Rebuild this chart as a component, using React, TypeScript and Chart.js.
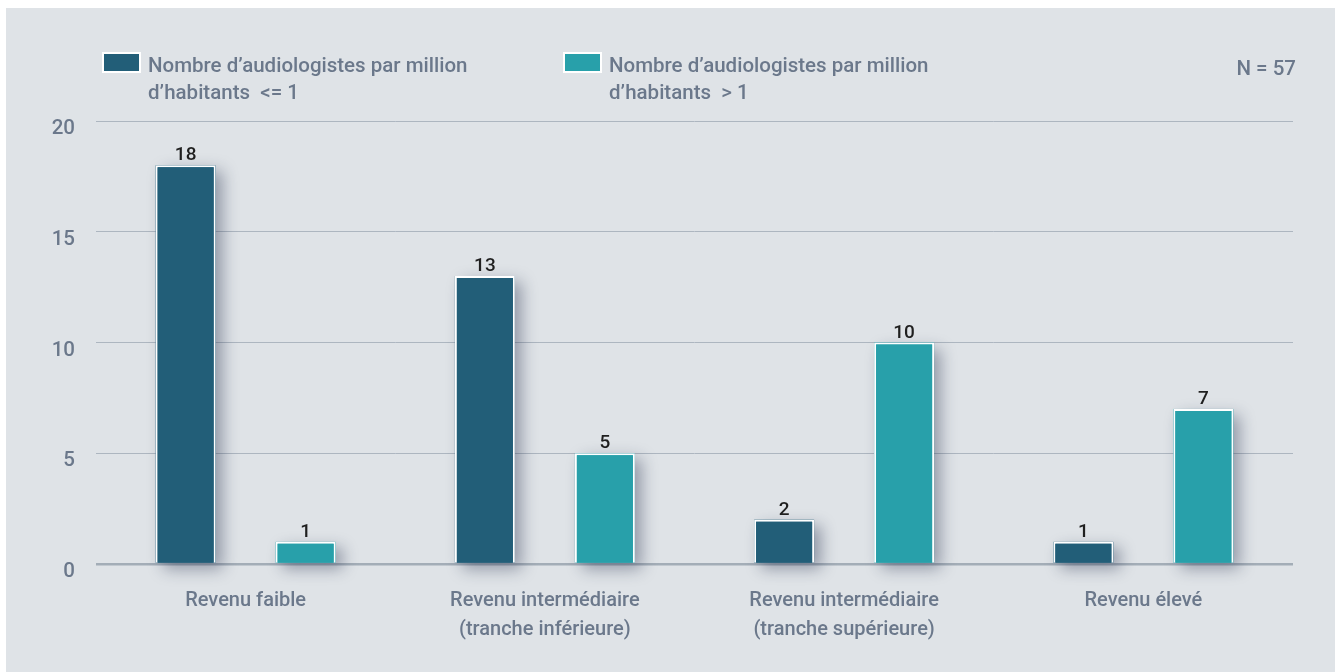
import { useEffect, useRef } from 'react';
import { Chart, registerables } from 'chart.js';

Chart.register(...registerables);

const categories: string[][] = [
  ['Revenu faible'],
  ['Revenu intermédiaire', '(tranche inférieure)'],
  ['Revenu intermédiaire', '(tranche supérieure)'],
  ['Revenu élevé'],
];
const seriesLow = [18, 13, 2, 1];
const seriesHigh = [1, 5, 10, 7];
const seriesLowLabel = ['Nombre d’audiologistes par million', 'd’habitants  <= 1'];
const seriesHighLabel = ['Nombre d’audiologistes par million', 'd’habitants  > 1'];
const yTicks = [0, 5, 10, 15, 20];
const noteText = 'N = 57';

const FONT = 'Roboto, "Liberation Sans", Arial, sans-serif';
const TEXT = '#6b788b';
const BG = '#dfe3e7';
const DARK = '#225e78';
const TEAL = '#28a0aa';

const shadowPlugin = {
  id: 'barShadow',
  beforeDatasetsDraw(chart: any) {
    const ctx = chart.ctx;
    chart.data.datasets.forEach((ds: any, i: number) => {
      const meta = chart.getDatasetMeta(i);
      meta.data.forEach((el: any) => {
        const { x, y, base, width } = el.getProps(['x', 'y', 'base', 'width'], true);
        ctx.save();
        ctx.shadowColor = 'rgba(30,40,70,0.4)';
        ctx.shadowBlur = 15;
        ctx.shadowOffsetX = 7;
        ctx.shadowOffsetY = 6;
        ctx.fillStyle = ds.backgroundColor;
        ctx.fillRect(x - width / 2, y, width, base - y);
        ctx.restore();
      });
    });
  },
};

const valueLabelPlugin = {
  id: 'valueLabels',
  afterDatasetsDraw(chart: any) {
    const ctx = chart.ctx;
    ctx.save();
    ctx.font = `500 19px ${FONT}`;
    ctx.fillStyle = '#1f1f1f';
    ctx.textAlign = 'center';
    ctx.textBaseline = 'alphabetic';
    chart.data.datasets.forEach((ds: any, i: number) => {
      const meta = chart.getDatasetMeta(i);
      meta.data.forEach((el: any, j: number) => {
        const { x, y } = el.getProps(['x', 'y'], true);
        ctx.fillText(String(ds.data[j]), x, y - 5);
      });
    });
    ctx.restore();
  },
};

const legendPlugin = {
  id: 'customLegend',
  afterDraw(chart: any) {
    const ctx = chart.ctx;
    ctx.save();
    const items = [
      { x: 96, color: chart.data.datasets[0].backgroundColor, lines: chart.data.datasets[0].legendLines },
      { x: 557, color: chart.data.datasets[1].backgroundColor, lines: chart.data.datasets[1].legendLines },
    ];
    items.forEach((it) => {
      ctx.fillStyle = '#ffffff';
      ctx.fillRect(it.x, 44, 39, 21);
      ctx.fillStyle = it.color;
      ctx.fillRect(it.x + 2, 46, 35, 17);
      ctx.fillStyle = TEXT;
      ctx.font = `500 20.5px ${FONT}`;
      ctx.textAlign = 'left';
      ctx.textBaseline = 'alphabetic';
      it.lines.forEach((ln: string, k: number) => {
        ctx.fillText(ln, it.x + 46, 64 + k * 27);
      });
    });
    ctx.textAlign = 'right';
    ctx.font = `500 20.5px ${FONT}`;
    ctx.fillStyle = TEXT;
    ctx.fillText(noteText, 1290, 67);
    ctx.restore();
  },
};

export default function App() {
  const ref = useRef<HTMLCanvasElement>(null);
  useEffect(() => {
    if (!ref.current) return;
    Chart.defaults.font.family = FONT;
    const chart = new Chart(ref.current, {
      type: 'bar',
      data: {
        labels: categories,
        datasets: [
          {
            label: seriesLowLabel.join(' '),
            legendLines: seriesLowLabel,
            data: seriesLow,
            backgroundColor: DARK,
            borderColor: '#ffffff',
            borderWidth: 2,
            categoryPercentage: 0.802,
            barPercentage: 0.5,
          } as any,
          {
            label: seriesHighLabel.join(' '),
            legendLines: seriesHighLabel,
            data: seriesHigh,
            backgroundColor: TEAL,
            borderColor: '#ffffff',
            borderWidth: 2,
            categoryPercentage: 0.802,
            barPercentage: 0.5,
          } as any,
        ],
      },
      options: {
        responsive: false,
        animation: false,
        layout: { padding: { top: 113, right: 42, left: 0, bottom: 0 } },
        plugins: {
          legend: { display: false },
          tooltip: { enabled: false },
        },
        scales: {
          x: {
            grid: { display: false },
            border: { display: false },
            ticks: {
              color: TEXT,
              font: { size: 20, family: FONT, weight: '500', lineHeight: 1.45 },
              padding: 14,
              maxRotation: 0,
              autoSkip: false,
            },
            afterFit: (s: any) => {
              s.height = 108;
            },
          },
          y: {
            min: 0,
            max: 20,
            border: { display: false },
            grid: {
              drawTicks: false,
              color: (c: any) => (c.tick && c.tick.value === 0 ? '#a3adb7' : '#adb6c0'),
              lineWidth: (c: any) => (c.tick && c.tick.value === 0 ? 2.5 : 1),
            },
            ticks: {
              color: TEXT,
              font: { size: 20.5, family: FONT, weight: '500' },
              padding: 21,
              labelOffset: 8,
            },
            afterBuildTicks: (s: any) => {
              s.ticks = yTicks.map((v) => ({ value: v }));
            },
            afterFit: (s: any) => {
              s.width = 90;
            },
          },
        },
      },
      plugins: [shadowPlugin, valueLabelPlugin, legendPlugin],
    });
    return () => chart.destroy();
  }, []);
  return (
    <div style={{ position: 'absolute', left: 6, top: 8, width: 1329, height: 664, background: BG }}>
      <canvas ref={ref} width={1329} height={664} style={{ display: 'block' }} />
    </div>
  );
}
